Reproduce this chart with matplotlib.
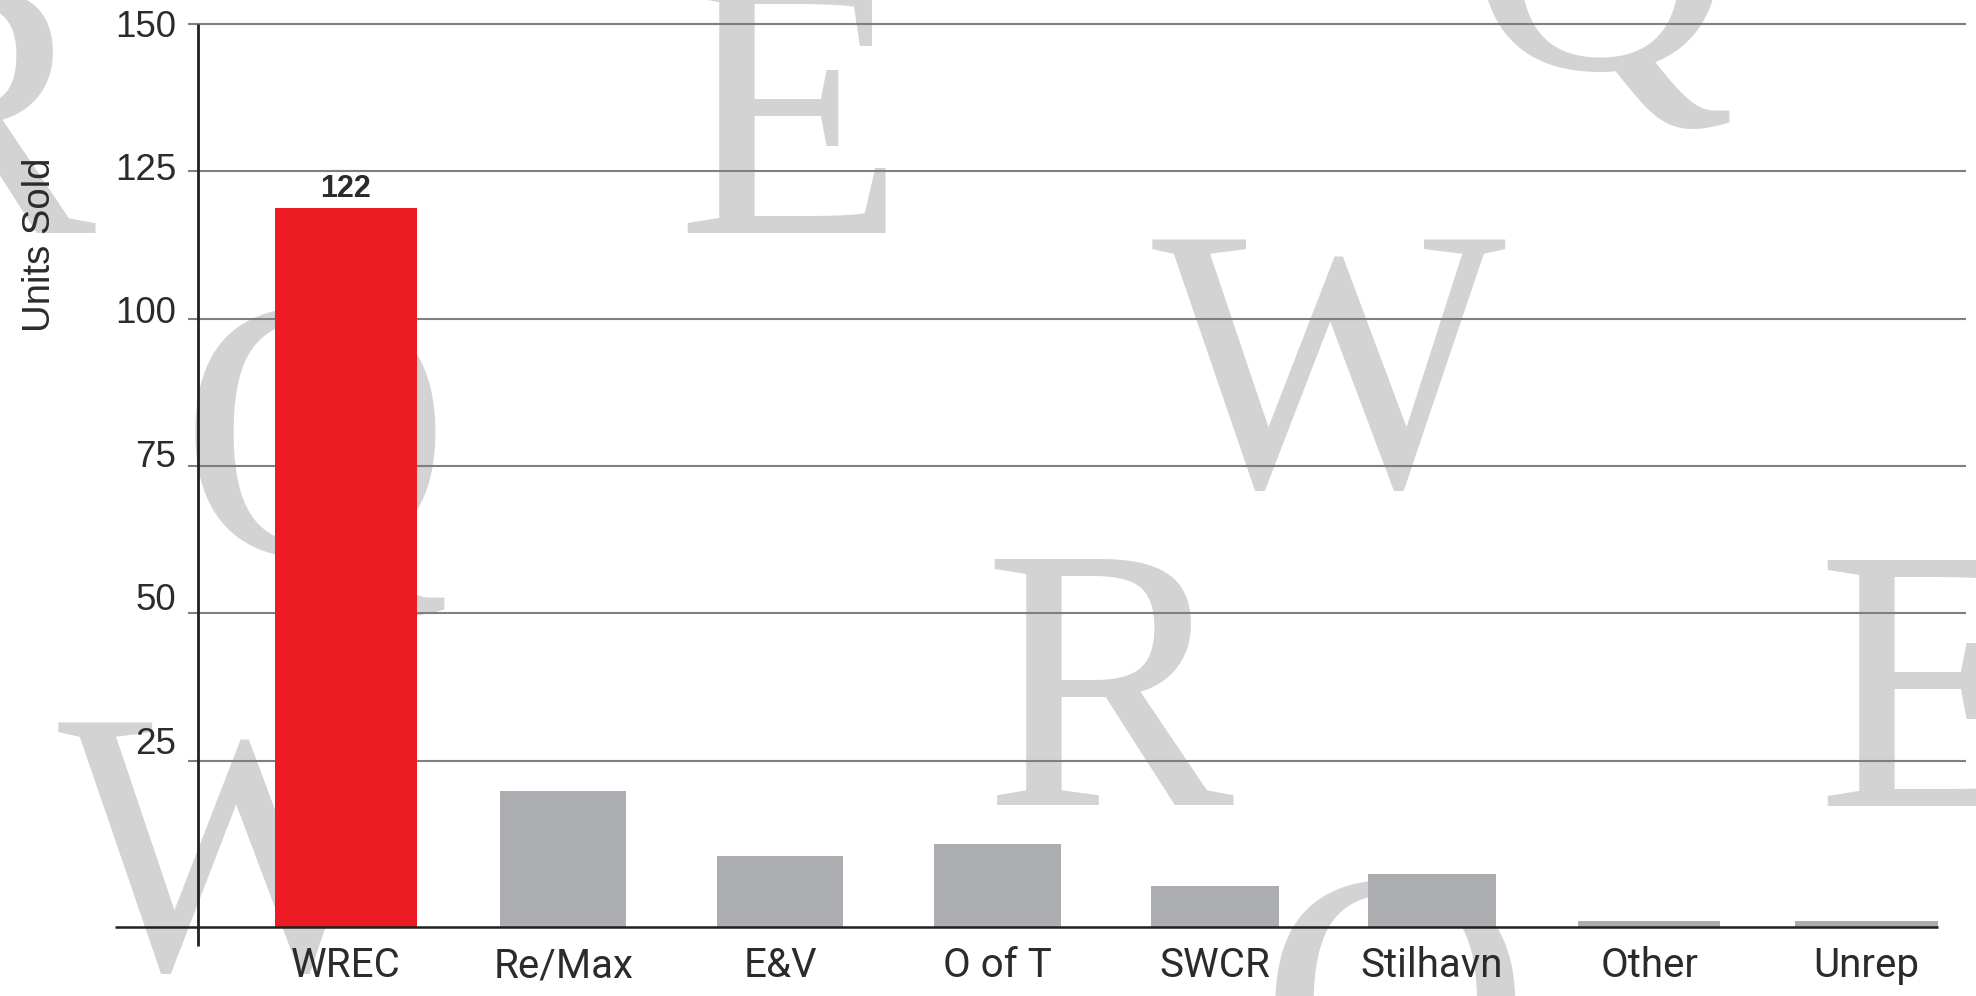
import numpy as np
import matplotlib
matplotlib.use('Agg')
from matplotlib import pyplot as plt

# data
brokers = ['WREC', 'Re/Max', 'E&V', 'O of T', 'SWCR', 'Stilhavn', 'Other', 'Unrep']
units_sold = [122, 23, 12, 14, 7, 9, 1, 1]
tick_values = [25, 50, 75, 100, 125, 150]

# styling
bar_colors = ['#ED1C24'] + ['#ACADB0'] * 7
bar_widths = [0.65, 0.58, 0.58, 0.585, 0.59, 0.59, 0.655, 0.655]
text_color = '#2b2b2b'
line_color = '#231f20'

# decorative letters in the background (figure pixels: x, baseline y, alignment)
letters = [
    ('R', 95, 233, 'right'),
    ('E', 791, 233, 'center'),
    ('Q', 1600, 68, 'center'),
    ('Q', 315, 555, 'center'),
    ('W', 1329, 485, 'center'),
    ('R', 1108, 805, 'center'),
    ('E', 1816, 806, 'left'),
    ('W', 235, 968, 'center'),
    ('Q', 1395, 1128, 'center'),
]

W, H = 1976, 996


def draw_chart():
    fig = plt.figure(figsize=(W / 100, H / 100), dpi=100)
    fig.patch.set_facecolor('white')

    for ch, px, py, ha in letters:
        fig.text(px / W, 1 - py / H, ch, ha=ha, va='baseline',
                 fontsize=270, family='Liberation Serif', color='#D3D3D3',
                 zorder=-5)

    ax = fig.add_axes([188 / W, (H - 927) / H, (1966 - 188) / W, 927 / H])
    ax.set_zorder(1)
    ax.patch.set_alpha(0)

    x = np.arange(len(brokers))
    ax.bar(x, units_sold, width=bar_widths, color=bar_colors, zorder=3)

    ax.set_xlim(-0.7274, 7.4586)
    ax.set_ylim(0, 157.3)

    # gridlines sit a little above the nominal values, labels drift further
    grid_pos = np.array(tick_values) + 3.25
    label_pos = 7.4 + 0.973 * np.array(tick_values)
    for g in grid_pos:
        ax.axhline(g, color='#7f7f7f', lw=1.5, zorder=1)

    ax.set_yticks(label_pos, [str(v) for v in tick_values])
    ax.set_xticks(x, brokers)
    ax.tick_params(axis='y', length=0, pad=8.6, labelsize=26.5,
                   labelcolor=text_color)
    ax.tick_params(axis='x', length=0, pad=14, labelsize=29,
                   labelcolor=text_color)
    for lab in ax.get_yticklabels():
        lab.set_family('Liberation Sans')
    for lab in ax.get_xticklabels():
        lab.set_family('Roboto')

    for s in ax.spines.values():
        s.set_visible(False)

    # y axis line and baseline
    xa = -0.6814
    ax.plot([xa, xa], [grid_pos[-1], -3.2], color=line_color, lw=2,
            clip_on=False, zorder=5, solid_capstyle='butt')
    right_end = x[-1] + bar_widths[-1] / 2
    ax.plot([-1.0635, right_end], [0, 0], color=line_color, lw=1.8,
            clip_on=False, zorder=5, solid_capstyle='butt')

    # value label on the highlighted bar
    ax.text(x[0], units_sold[0] + 1.9, str(units_sold[0]), ha='center',
            va='baseline', fontsize=22, fontweight='bold',
            family='Liberation Sans', color=text_color, zorder=6)

    fig.text(40 / W, 1 - 245 / H, 'Units Sold', rotation=90, ha='center',
             va='center', fontsize=27.5, family='Liberation Sans',
             color=text_color)

    plt.savefig('out.png', dpi=100)


def main():
    draw_chart()


if __name__ == '__main__': main()
